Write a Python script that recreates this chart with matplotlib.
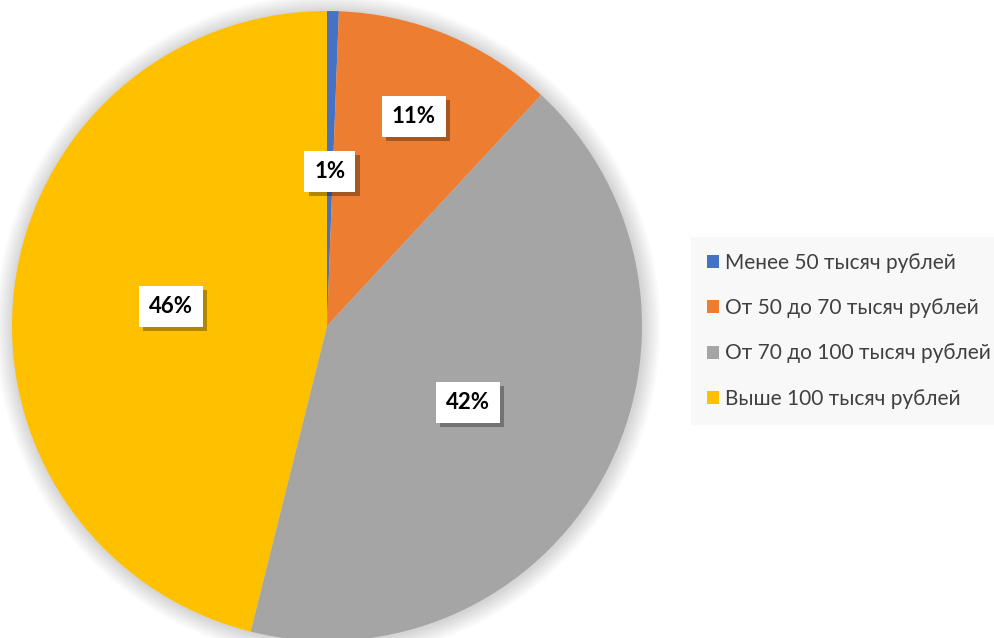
import matplotlib.pyplot as plt
import matplotlib.patheffects as pe
from matplotlib.patches import Circle
import numpy as np

labels = ['Менее 50 тысяч рублей', 'От 50 до 70 тысяч рублей',
          'От 70 до 100 тысяч рублей', 'Выше 100 тысяч рублей']
values = [0.6, 11.3, 42.0, 46.1]
pct_text = ['1%', '11%', '42%', '46%']
colors = ['#4472C4', '#ED7D31', '#A5A5A5', '#FFC000']
label_r = [0.49, 0.72, 0.51, 0.5]

plt.rcParams['font.family'] = ['Lato', 'DejaVu Sans']

fig = plt.figure(figsize=(9.95, 6.38), dpi=100)
ax = fig.add_axes([12 / 995, -3 / 638, 630 / 995, 630 / 638])

# мягкая тень вокруг круга
for i in range(14):
    r = 1.0 + 0.004 * (i + 1)
    ax.add_patch(Circle((0.003, -0.003), r, color='black', alpha=0.01,
                        lw=0, zorder=0, clip_on=False))

wedges, _ = ax.pie(values, colors=colors, startangle=90, counterclock=False,
                   radius=1.0, wedgeprops=dict(linewidth=0))
ax.set_xlim(-1, 1)
ax.set_ylim(-1, 1)
ax.set_aspect('equal')
ax.axis('off')

for w, t, rr in zip(wedges, pct_text, label_r):
    ang = np.deg2rad((w.theta1 + w.theta2) / 2)
    x, y = rr * np.cos(ang), rr * np.sin(ang)
    txt = ax.text(x, y, t, ha='center', va='center', fontsize=16, fontweight='bold',
                  color='black', zorder=5,
                  bbox=dict(boxstyle='square,pad=0.45', fc='white', ec='none'))
    txt.get_bbox_patch().set_path_effects([
        pe.withSimplePatchShadow(offset=(3, -3), shadow_rgbFace='black', alpha=0.3)])

leg = fig.legend(wedges, labels, loc='upper left',
                 bbox_to_anchor=(691 / 995, 1 - 237 / 638),
                 frameon=True, fontsize=15, handlelength=0.6, handleheight=0.6,
                 handletextpad=0.3, labelspacing=1.22, borderpad=0.75,
                 borderaxespad=0)
leg.get_frame().set_facecolor('#f7f7f7')
leg.get_frame().set_edgecolor('none')
leg.get_frame().set_boxstyle('square', pad=0)
for t in leg.get_texts():
    t.set_color('#404040')

fig.savefig('out.png', dpi=100)
